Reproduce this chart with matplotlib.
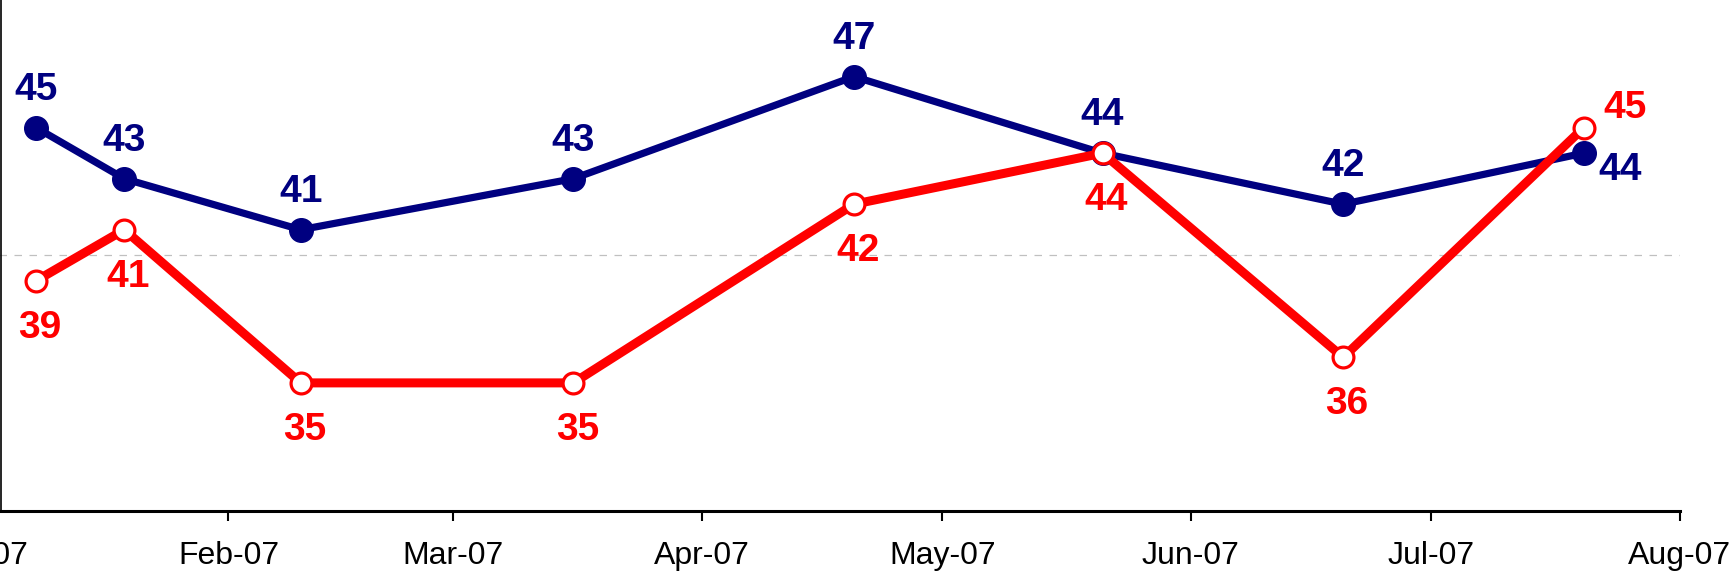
import datetime as dt

import matplotlib
matplotlib.use('Agg')
import matplotlib.pyplot as plt
import matplotlib.dates as mdates

plt.rcParams['font.family'] = ['Liberation Sans', 'DejaVu Sans']

# ── data ─────────────────────────────────────────────────────
dates = [dt.date(2007, 1, 8), dt.date(2007, 1, 19), dt.date(2007, 2, 10),
         dt.date(2007, 3, 16), dt.date(2007, 4, 20), dt.date(2007, 5, 21),
         dt.date(2007, 6, 20), dt.date(2007, 7, 20)]
blue_vals = [45, 43, 41, 43, 47, 44, 42, 44]
red_vals = [39, 41, 35, 35, 42, 44, 36, 45]

BLUE = '#000080'
RED = '#FF0000'

fig = plt.figure(figsize=(17.33, 5.80), dpi=100, facecolor='white')
# axes starts a little left of the canvas so the Jan-07 label is cut off
ax = fig.add_axes([-0.0116, 0.1198, 0.9810, 0.8802])

ax.set_xlim(dt.date(2007, 1, 1), dt.date(2007, 8, 1))
ax.set_ylim(30, 50)

# gridline at 40
ax.axhline(40, color='#C0C0C0', lw=0.9, ls=(0, (6, 6)), zorder=1)

ax.plot(dates, blue_vals, color=BLUE, lw=5.2, marker='o', ms=17,
        mfc=BLUE, mec=BLUE, zorder=3, solid_capstyle='round')
ax.plot(dates, red_vals, color=RED, lw=6.5, marker='o', ms=15,
        mfc='white', mec=RED, mew=2.3, zorder=4, solid_capstyle='round')

lab_kw = dict(textcoords='offset pixels', fontsize=28, fontweight='bold',
              va='baseline', annotation_clip=False)
n = len(dates)
for i, (d, v) in enumerate(zip(dates, blue_vals)):
    if i == n - 1:
        ax.annotate(str(v), (d, v), xytext=(15, -27), ha='left',
                    color=BLUE, **lab_kw)
    else:
        ax.annotate(str(v), (d, v), xytext=(0, 28), ha='center',
                    color=BLUE, **lab_kw)
for i, (d, v) in enumerate(zip(dates, red_vals)):
    if i == n - 1:
        ax.annotate(str(v), (d, v), xytext=(20, 10), ha='left',
                    color=RED, **lab_kw)
    else:
        ax.annotate(str(v), (d, v), xytext=(4, -57), ha='center',
                    color=RED, **lab_kw)

# axes styling
ax.xaxis.set_major_locator(mdates.MonthLocator())
ax.xaxis.set_major_formatter(mdates.DateFormatter('%b-%y'))
ax.tick_params(axis='x', direction='out', length=7.2, width=1.5,
               labelsize=23, pad=15, colors='black')
ax.set_yticks([])
for s in ('top', 'right'):
    ax.spines[s].set_visible(False)
ax.spines['bottom'].set_linewidth(2.2)
ax.spines['left'].set_linestyle((0, (1, 1)))
ax.spines['left'].set_linewidth(1.2)
ax.spines['left'].set_position(('axes', 0.0127))

fig.savefig('out.png', dpi=100, facecolor='white')
